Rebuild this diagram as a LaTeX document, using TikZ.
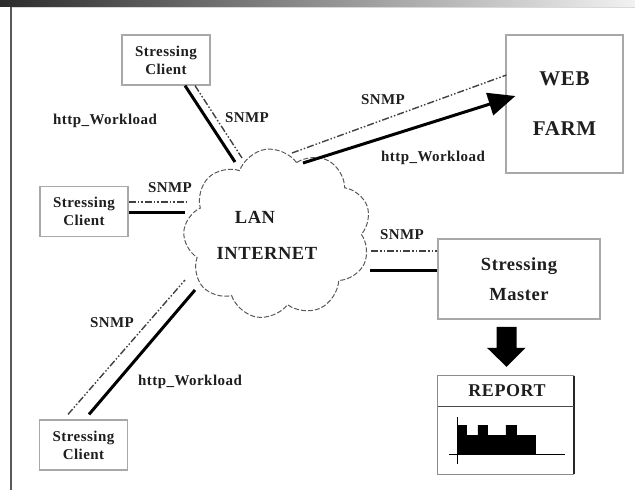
\documentclass[tikz,border=0pt]{standalone}
\usepackage{fontspec}
\setmainfont{Liberation Serif}
\newfontfamily\lblfont[LetterSpace=3]{Liberation Serif}
\usetikzlibrary{calc,shapes.symbols,arrows.meta}
\definecolor{boxgray}{HTML}{A8A8A8}
\definecolor{ink}{HTML}{1E1E1E}
\definecolor{barleft}{HTML}{2C2C2C}
\definecolor{barright}{HTML}{F2F2F2}
\tikzset{
  client/.style={draw=boxgray, line width=1.2pt, minimum width=88pt, minimum height=50pt,
    inner sep=0pt, align=center, text=ink, font=\lblfont\bfseries\fontsize{15}{18}\selectfont},
  bigbox/.style={draw=boxgray, line width=1.2pt, inner sep=0pt, align=center, text=ink},
  lbl/.style={text=ink, inner sep=0pt, font=\lblfont\bfseries\fontsize{15}{17}\selectfont},
  cloudtext/.style={text=ink, inner sep=0pt, font=\lblfont\bfseries\fontsize{18.5}{20}\selectfont},
  work/.style={line width=3pt, draw=black},
  snmp/.style={line width=1.4pt, draw=ink!85,
    dash pattern=on 7pt off 2pt on 1.5pt off 2pt on 1.5pt off 2pt},
  netcloud/.style={cloud, cloud puffs=9, cloud puff arc=125, aspect=1.1,
    draw=black!65, line width=1pt, dash pattern=on 5pt off 2pt,
    minimum width=188pt, minimum height=170pt, inner sep=0pt},
}
\begin{document}
\begin{tikzpicture}[x=1pt, y=-1pt]
\useasboundingbox (0,0) rectangle (635,490);

% page frame: shaded header bar and left rule
\shade[left color=barleft, right color=barright] (0,0) rectangle (635,6);
\draw[black!15, line width=1.5pt] (11,7.5) -- (635,7.5);
\draw[black!65, line width=2pt] (11,7) -- (11,490);

% network cloud
\node[netcloud, rotate=8] (net) at (277.5,233.5) {};
\node[cloudtext] (lan) at (255,217) {LAN};
\node[cloudtext] (inet) at (267,253) {INTERNET};

% hosts
\node[client] (tc) at (166,60) {Stressing\\Client};
\node[client] (lc) at (84,211.5) {Stressing\\Client};
\node[client] (bc) at (83.5,445) {Stressing\\Client};
\node[bigbox, minimum width=117pt, minimum height=138pt,
  font=\lblfont\bfseries\fontsize{21}{50}\selectfont] (web) at (564.5,104) {WEB\\FARM};
\node[bigbox, minimum width=162pt, minimum height=80pt,
  font=\lblfont\bfseries\fontsize{18.5}{30}\selectfont] (master) at (519,279) {Stressing\\Master};

% report sheet
\node[inner sep=0pt, minimum width=136pt, minimum height=98pt] (report) at (506,425) {};
\draw[black!45, line width=1pt] (report.north east) -- (report.north west) -- (report.south west) -- (report.south east);
\draw[black!85, line width=1.8pt] (report.north east) -- (report.south east);
\draw[black!70, line width=1.2pt] ($(report.north west)+(0,31)$) -- ($(report.north east)+(0,31)$);
\node[text=ink, inner sep=0pt, font=\lblfont\bfseries\fontsize{18}{20}\selectfont] (rtitle) at ($(report.north)+(1,15)$) {REPORT};
\coordinate (org) at ($(report.south west)+(20,-20)$);
\fill[black] (org) -- ++(0,-29) -- ++(9,0) -- ++(0,10) -- ++(11,0) -- ++(0,-10) -- ++(10,0) -- ++(0,10)
  -- ++(18,0) -- ++(0,-10) -- ++(11,0) -- ++(0,10) -- ++(19,0) -- ++(0,19) -- cycle;
\draw[black, line width=0.9pt] ($(org)+(0,10)$) -- ($(org)+(0,-37)$);
\draw[black, line width=0.9pt] ($(org)+(-9,0)$) -- ($(org)+(107,0)$);

% report arrow from master to the sheet
\fill[black] ($(report.north)+(-9.5,-49)$) -- ++(20,0) -- ++(0,21) -- ++(9,0) -- ($(report.north)+(0.5,-9)$)
  -- ($(report.north)+(-19,-28)$) -- ++(9.5,0) -- cycle;

% top client links
\draw[work] ($(tc.south)+(19,0)$) -- ($(net.center)+(-42.5,-71.5)$);
\draw[snmp] ($(tc.south)+(29,0)$) -- ($(net.center)+(-35.5,-75.5)$);
\node[lbl] (l1) at (105,121) {http\_Workload};
\node[lbl] (l2) at (247,118) {SNMP};

% web farm links
\draw[snmp] ($(net.center)+(14.5,-80.5)$) -- ($(web.west)+(1,-29)$);
\draw[work, -{Triangle[length=27pt 0 0, width=23pt 0 0]}] ($(net.center)+(25.5,-70.5)$) -- ($(web.west)+(10,-8)$);
\node[lbl] (l3) at (383,100) {SNMP};
\node[lbl] (l4) at (433,158) {http\_Workload};

% left client links
\draw[snmp] ($(lc.east)+(0,-9.5)$) -- ($(net.center)+(-90.5,-31.5)$);
\draw[work] ($(lc.east)+(0,0.5)$) -- ($(net.center)+(-92.5,-21.5)$);
\node[lbl] (l5) at (170,188) {SNMP};

% master links
\draw[snmp] ($(net.center)+(93.5,17.5)$) -- ($(master.west)+(0,-28)$);
\draw[work] ($(net.center)+(92.5,36.5)$) -- ($(master.west)+(0,-9)$);
\node[lbl] (l6) at (402,235) {SNMP};

% bottom client links
\draw[snmp] ($(bc.north)+(-15.5,-5)$) -- ($(net.center)+(-92.5,46.5)$);
\draw[work] ($(bc.north)+(5.5,-5)$) -- ($(net.center)+(-82.5,56.5)$);
\node[lbl] (l7) at (112,323) {SNMP};
\node[lbl] (l8) at (190,382) {http\_Workload};
\end{tikzpicture}
\end{document}
